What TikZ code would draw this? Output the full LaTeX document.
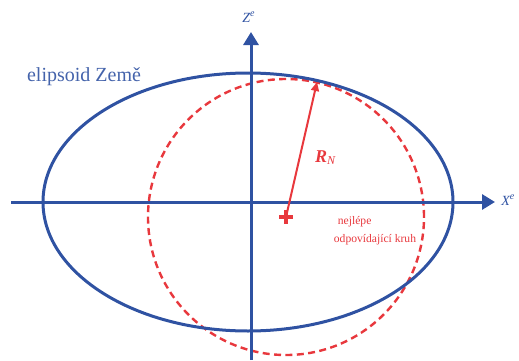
\documentclass[tikz,border=0pt]{standalone}
\usepackage{fontspec}
\setmainfont{Liberation Serif}
\usetikzlibrary{arrows.meta,positioning,calc}
\definecolor{Blue}{HTML}{2F52A2}
\definecolor{Red}{HTML}{E8383D}
\tikzset{
  earth/.style={draw=Blue,line width=1.5pt},
  axis/.style={-{Triangle[length=6.5pt,width=7.5pt]},draw=Blue,line width=1.5pt},
  fitcircle/.style={draw=Red,line width=1.2pt,dash pattern=on 3.5pt off 2.2pt},
  radius arrow/.style={-{Triangle[length=4.5pt,width=4pt]},draw=Red,line width=1pt},
  plusmark/.style={draw=Red,line width=1.6pt},
  axislabel/.style={text=Blue,inner sep=0pt,font=\fontsize{7}{8}\selectfont\itshape},
  bluetext/.style={text=Blue!90,inner sep=0pt,font=\fontsize{10}{12}\selectfont},
  redtext/.style={text=Red,inner sep=0pt,align=left,font=\fontsize{5.8}{9}\selectfont}
}
\begin{document}
\begin{tikzpicture}[x=0.5pt,y=0.5pt]
  \useasboundingbox (0,0) rectangle (519,360);
  % centres and axis ends
  \coordinate (O) at (248,158);
  \coordinate (C) at (286,143);
  \coordinate (zb) at (251,0);
  \coordinate (zt) at (251,328);
  \coordinate (xl) at (11,158);
  \coordinate (xr) at (495,158);
  \coordinate (T) at (317,278);
  % circle, ellipse, axes
  \draw[fitcircle] (C) circle [radius=138];
  \draw[earth] (O) ellipse [x radius=205,y radius=129];
  \draw[axis] (zb)--(zt); \draw[axis] (xl)--(xr);
  \draw[radius arrow] (C)--(T);
  \draw[plusmark] ([xshift=-3.4pt]C)--([xshift=3.4pt]C); \draw[plusmark] ([yshift=-3.4pt]C)--([yshift=3.4pt]C);
  % labels
  \node[axislabel] (zlab) at (249,343) {Z\textsuperscript{e}};
  \node[axislabel,anchor=west] (xlab) at (501,160) {X\textsuperscript{e}};
  \node[bluetext] (ez) at (84,283) {elipsoid Země};
  \node[text=Red,inner sep=0pt,font=\fontsize{9}{10}\selectfont] (rn) at (326,202) {\textbf{\textit{R}}\textsubscript{\textit{N}}};
  \node[redtext] (kruh) at (375,129) {\hspace{2pt}nejlépe\\odpovídající kruh};
\end{tikzpicture}
\end{document}
